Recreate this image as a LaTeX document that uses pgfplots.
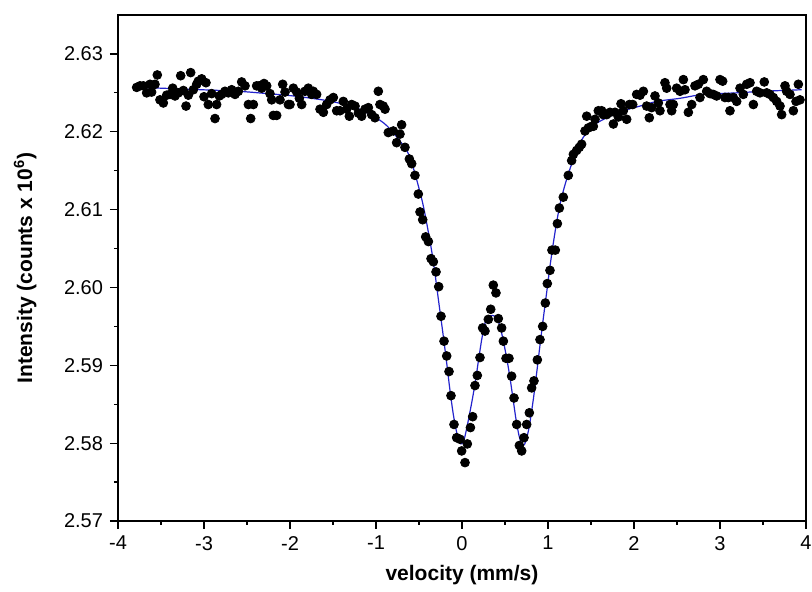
\documentclass[border=0pt]{standalone}
\usepackage{fontspec}
\setmainfont{Liberation Sans}
\usepackage{pgfplots}
\pgfplotsset{compat=1.18}
\definecolor{fitblue}{RGB}{35,35,205}

\begin{document}
\begin{tikzpicture}
\begin{axis}[
  scale only axis, width=344pt, height=253pt,
  xmin=-4, xmax=4, ymin=2.57, ymax=2.635,
  xtick={-4,-3,-2,-1,0,1,2,3,4},
  minor xtick={-3.5,-2.5,-1.5,-0.5,0.5,1.5,2.5,3.5},
  ytick={2.57,2.58,2.59,2.60,2.61,2.62,2.63},
  minor ytick={2.575,2.585,2.595,2.605,2.615,2.625},
  tick align=outside, xtick pos=bottom, ytick pos=left,
  major tick length=4pt, minor tick length=2pt,
  every tick/.style={black, line width=0.6pt},
  axis line style={line width=1pt},
  /pgf/number format/assume math mode=true,
  yticklabel style={/pgf/number format/.cd, fixed, fixed zerofill, precision=2},
  ticklabel style={font=\fontsize{10}{11}\selectfont},
  xlabel={velocity (mm/s)},
  ylabel={Intensity (counts x 10\textsuperscript{6})},
  label style={font=\fontsize{10.5}{12}\selectfont\bfseries},
  xlabel style={at={(axis description cs:0.5,-0.107)}, anchor=center},
  ylabel style={at={(axis description cs:-0.135,0.5)}, anchor=center},
]
% measured points
\addplot[only marks, mark=*, mark size=2.2pt, black] coordinates {
(-3.783,2.6257) (-3.744,2.6259) (-3.705,2.6259) (-3.667,2.6250) (-3.628,2.6261)
(-3.609,2.6251) (-3.570,2.6261) (-3.543,2.6273) (-3.512,2.6241) (-3.473,2.6237)
(-3.434,2.6247) (-3.395,2.6248) (-3.364,2.6256) (-3.337,2.6246) (-3.298,2.6250)
(-3.271,2.6272) (-3.240,2.6253) (-3.209,2.6233) (-3.182,2.6247) (-3.155,2.6276)
(-3.124,2.6254) (-3.085,2.6261) (-3.066,2.6265) (-3.027,2.6268) (-3.000,2.6245)
(-2.977,2.6263) (-2.950,2.6235) (-2.911,2.6249) (-2.872,2.6217) (-2.853,2.6235)
(-2.822,2.6246) (-2.795,2.6248) (-2.756,2.6252) (-2.717,2.6250) (-2.678,2.6254)
(-2.639,2.6248) (-2.601,2.6252) (-2.562,2.6264) (-2.523,2.6259) (-2.484,2.6235)
(-2.457,2.6217) (-2.426,2.6235) (-2.388,2.6259) (-2.357,2.6259) (-2.329,2.6256)
(-2.302,2.6262) (-2.271,2.6259) (-2.233,2.6249) (-2.213,2.6241) (-2.194,2.6221)
(-2.155,2.6221) (-2.116,2.6241) (-2.085,2.6261) (-2.058,2.6251) (-2.019,2.6235)
(-2.000,2.6235) (-1.961,2.6256) (-1.922,2.6251) (-1.891,2.6243) (-1.864,2.6235)
(-1.826,2.6252) (-1.787,2.6256) (-1.748,2.6248) (-1.729,2.6252) (-1.690,2.6248)
(-1.651,2.6229) (-1.612,2.6225) (-1.574,2.6235) (-1.535,2.6241) (-1.496,2.6244)
(-1.457,2.6227) (-1.419,2.6227) (-1.380,2.6239) (-1.341,2.6229) (-1.310,2.6220)
(-1.283,2.6235) (-1.244,2.6233) (-1.205,2.6224) (-1.167,2.6220) (-1.128,2.6229)
(-1.089,2.6231) (-1.050,2.6222) (-1.012,2.6218) (-0.973,2.6252) (-0.954,2.6235)
(-0.915,2.6233) (-0.895,2.6229) (-0.857,2.6199) (-0.799,2.6201) (-0.760,2.6186)
(-0.721,2.6197) (-0.702,2.6209) (-0.663,2.6180) (-0.612,2.6165)
(-0.585,2.6159) (-0.547,2.6144) (-0.508,2.6120) (-0.488,2.6097) (-0.457,2.6087)
(-0.422,2.6065) (-0.391,2.6059) (-0.360,2.6037) (-0.333,2.6033) (-0.302,2.6020)
(-0.271,2.6001) (-0.244,2.5963) (-0.209,2.5931) (-0.178,2.5912) (-0.151,2.5892)
(-0.128,2.5861) (-0.093,2.5824) (-0.062,2.5807) (-0.023,2.5805) (-0.004,2.5790)
(0.035,2.5775) (0.062,2.5799) (0.098,2.5820) (0.124,2.5834) (0.151,2.5874)
(0.178,2.5887) (0.209,2.5910) (0.240,2.5948) (0.267,2.5944) (0.306,2.5959)
(0.334,2.5972) (0.364,2.6003) (0.395,2.5993) (0.422,2.5960) (0.461,2.5948)
(0.481,2.5931) (0.512,2.5909) (0.546,2.5909) (0.577,2.5886) (0.605,2.5858)
(0.636,2.5824) (0.667,2.5797) (0.694,2.5790) (0.721,2.5807) (0.752,2.5824)
(0.783,2.5839) (0.810,2.5871) (0.837,2.5880) (0.876,2.5907) (0.907,2.5933)
(0.938,2.5950) (0.969,2.5980) (0.992,2.6005) (1.023,2.6022) (1.046,2.6048)
(1.085,2.6048) (1.109,2.6082) (1.132,2.6102) (1.178,2.6116) (1.236,2.6144)
(1.275,2.6163) (1.295,2.6171) (1.333,2.6176) (1.364,2.6180) (1.391,2.6184)
(1.430,2.6201) (1.450,2.6220) (1.469,2.6205) (1.508,2.6207) (1.527,2.6207)
(1.547,2.6216) (1.585,2.6227) (1.624,2.6227) (1.643,2.6222) (1.682,2.6222)
(1.721,2.6225) (1.760,2.6210) (1.779,2.6225) (1.818,2.6219) (1.849,2.6236)
(1.876,2.6227) (1.915,2.6216) (1.946,2.6235) (1.985,2.6235) (2.031,2.6248)
(2.070,2.6247) (2.109,2.6252) (2.147,2.6233) (2.178,2.6218) (2.205,2.6231)
(2.244,2.6246) (2.283,2.6237) (2.302,2.6227) (2.360,2.6263) (2.380,2.6256)
(2.419,2.6235) (2.438,2.6227) (2.457,2.6235) (2.496,2.6256) (2.535,2.6252)
(2.574,2.6267) (2.593,2.6254) (2.632,2.6225) (2.671,2.6235) (2.709,2.6259)
(2.748,2.6261) (2.767,2.6244) (2.806,2.6267) (2.845,2.6252) (2.884,2.6249)
(2.922,2.6248) (2.961,2.6246) (3.000,2.6267) (3.031,2.6265) (3.058,2.6244)
(3.097,2.6244) (3.116,2.6227) (3.155,2.6244) (3.194,2.6239) (3.233,2.6256)
(3.271,2.6248) (3.310,2.6261) (3.349,2.6263) (3.388,2.6235) (3.426,2.6252)
(3.465,2.6250) (3.515,2.6264) (3.543,2.6250) (3.581,2.6248) (3.620,2.6244)
(3.659,2.6239) (3.698,2.6233) (3.717,2.6222) (3.756,2.6259) (3.775,2.6252)
(3.814,2.6248) (3.853,2.6227) (3.884,2.6239) (3.911,2.6261) (3.930,2.6241)
};
% fitted curve
\addplot[fitblue, line width=0.6pt, smooth] coordinates {
(-3.80,2.6257) (-3.50,2.6256) (-3.03,2.6254) (-2.60,2.6252) (-2.26,2.6249)
(-1.96,2.6246) (-1.57,2.6240) (-1.26,2.6232) (-1.03,2.6220) (-0.876,2.6208)
(-0.721,2.6188) (-0.605,2.6167) (-0.469,2.6114) (-0.391,2.6071) (-0.333,2.6033)
(-0.275,2.5985) (-0.217,2.5937) (-0.178,2.5903) (-0.140,2.5868) (-0.101,2.5837)
(-0.054,2.5810) (-0.012,2.5799) (0.023,2.5804) (0.062,2.5823) (0.113,2.5852)
(0.151,2.5876) (0.190,2.5905) (0.229,2.5933) (0.267,2.5954) (0.306,2.5962)
(0.357,2.5964) (0.403,2.5961) (0.442,2.5950) (0.481,2.5931) (0.520,2.5909)
(0.558,2.5884) (0.597,2.5854) (0.636,2.5825) (0.674,2.5805) (0.713,2.5797)
(0.744,2.5803) (0.783,2.5822) (0.829,2.5856) (0.868,2.5890) (0.907,2.5926)
(0.945,2.5960) (0.985,2.5994) (1.023,2.6027) (1.062,2.6057) (1.101,2.6084)
(1.140,2.6107) (1.178,2.6124) (1.217,2.6139) (1.276,2.6159) (1.334,2.6176)
(1.411,2.6193) (1.527,2.6208) (1.682,2.6218) (1.876,2.6227) (2.070,2.6233)
(2.264,2.6239) (2.535,2.6243) (2.806,2.6248) (3.194,2.6250) (3.50,2.6252)
(3.95,2.6254)
};
\coordinate (sw) at (rel axis cs:0,0);
\coordinate (ne) at (rel axis cs:1,1);
\end{axis}
\pgfresetboundingbox
\path ([shift={(-59pt,-35.5pt)}]sw) rectangle ([shift={(3pt,7.5pt)}]ne);
\end{tikzpicture}
\end{document}
